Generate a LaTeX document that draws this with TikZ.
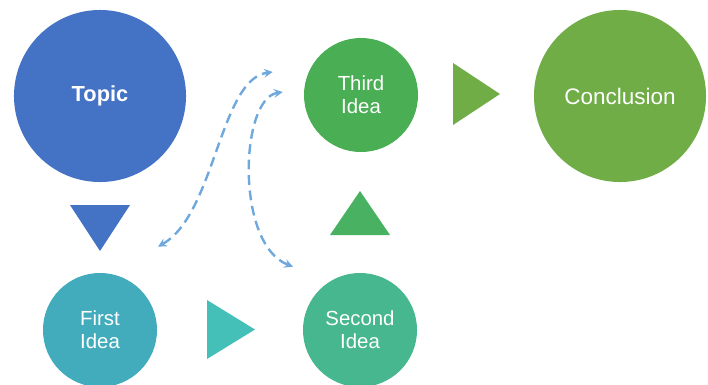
\documentclass[tikz,border=0pt]{standalone}
\usepackage{fontspec}
\setmainfont{Liberation Sans}
\usetikzlibrary{calc}

\definecolor{topicblue}{HTML}{4472C4}
\definecolor{thirdgreen}{HTML}{4AAF54}
\definecolor{conclgreen}{HTML}{70AD47}
\definecolor{firstteal}{HTML}{43ACBC}
\definecolor{secondgreen}{HTML}{46B78E}
\definecolor{pointteal}{HTML}{45C0B9}
\definecolor{pointgreen}{HTML}{48B262}
\definecolor{dashblue}{HTML}{6FA8DC}

\begin{document}
\begin{tikzpicture}[x=0.025cm, y=0.025cm, >=stealth,
  bigidea/.style={circle, minimum size=4.3cm, inner sep=0pt, text=white},
  idea/.style={circle, minimum size=2.85cm, inner sep=0pt, text=white, align=center,
    font=\fontsize{14.5}{16.5}\selectfont},
  link/.style={<->, dashblue, line width=1.7pt, dash pattern=on 7pt off 4pt}]
  \useasboundingbox (0, 0) rectangle (708, 384);
  % circles
  \node[bigidea, fill=topicblue, font=\bfseries\fontsize{15.5}{18}\selectfont] (topic) at (100, 288) {Topic};
  \node[bigidea, fill=conclgreen, font=\fontsize{16}{19}\selectfont] (concl) at (620, 288) {Conclusion};
  \node[idea, fill=thirdgreen] (third) at (361, 289) {Third\\Idea};
  \node[idea, fill=firstteal] (first) at (100, 54) {First\\Idea};
  \node[idea, fill=secondgreen] (second) at (360, 54) {Second\\Idea};
  % pointers
  \fill[topicblue] (70, 179) -- (130, 179) -- (100, 133) -- cycle;
  \fill[pointgreen] (330, 149) -- (390, 149) -- (360, 193) -- cycle;
  \fill[conclgreen] (453, 321) -- (453, 259) -- (500, 290) -- cycle;
  \fill[pointteal] (207, 84) -- (207, 25) -- (255, 54.5) -- cycle;
  % dashed links
  \coordinate (a1) at ($(first.north) + (58, 26)$);
  \coordinate (a2) at ($(third.west) + (-31, 23)$);
  \coordinate (b1) at ($(third.west) + (-21, 3)$);
  \coordinate (b2) at ($(second.north) + (-67, 6)$);
  \draw[link] (a1) .. controls (215, 170) and (220, 305) .. (a2);
  \draw[link] (b2) .. controls (235, 140) and (240, 285) .. (b1);
\end{tikzpicture}
\end{document}
